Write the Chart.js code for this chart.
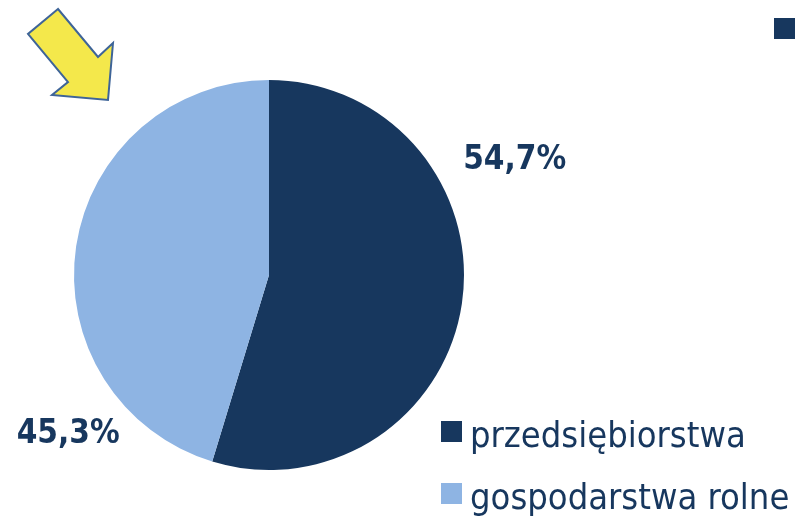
<!DOCTYPE html>
<html>
<head>
<meta charset="utf-8">
<script src="https://cdn.jsdelivr.net/npm/chart.js@4/dist/chart.umd.min.js"></script>
<style>
  html, body { margin: 0; padding: 0; background: #fff; }
  #wrap { width: 797px; height: 517px; }
</style>
</head>
<body>
<div id="wrap"><canvas id="pieChart" width="797" height="517"></canvas></div>
<script>
// Chart data
const categories = ["przedsiębiorstwa", "gospodarstwa rolne"];
const shares = [54.7, 45.3];
const shareLabels = ["54,7%", "45,3%"];
const sliceColors = ["#17375E", "#8EB4E3"];

const textColor = "#17375E";
const fontFamily = "'DejaVu Sans Condensed', 'DejaVu Sans', sans-serif";

// Yellow arrow in the top-left corner (decoration)
const arrowPts = [[58, 9], [28, 34], [68, 82], [52, 95], [108, 100], [113, 43], [98, 57]];

// Draws the percentage labels, the legend and the decorations
const extrasPlugin = {
    id: "extras",
    afterDraw(chart) {
        const ctx = chart.ctx;
        const arc = chart.getDatasetMeta(0).data[0];
        const cx = arc.x, cy = arc.y, r = arc.outerRadius;

        ctx.save();
        // percentage labels, placed around the pie
        ctx.fillStyle = textColor;
        ctx.font = "bold 33px " + fontFamily;
        ctx.textAlign = "center";
        ctx.textBaseline = "middle";
        ctx.fillText(shareLabels[0], cx + r * 1.26, cy - r * 0.59);
        ctx.fillText(shareLabels[1], cx - r * 1.03, cy + r * 0.82);

        // legend (bottom right)
        ctx.font = "36px " + fontFamily;
        ctx.textAlign = "left";
        ctx.textBaseline = "alphabetic";
        categories.forEach((name, i) => {
            const y = 447 + i * 62;
            ctx.fillStyle = sliceColors[i];
            ctx.fillRect(441, y - 26, 21, 21);
            ctx.fillStyle = textColor;
            ctx.fillText(name, 470, y);
        });

        // stray marker, top right
        ctx.fillStyle = sliceColors[0];
        ctx.fillRect(774, 18, 21, 21);

        // arrow
        ctx.beginPath();
        arrowPts.forEach((p, i) => i ? ctx.lineTo(p[0], p[1]) : ctx.moveTo(p[0], p[1]));
        ctx.closePath();
        ctx.fillStyle = "#F4E84B";
        ctx.fill();
        ctx.lineWidth = 2;
        ctx.strokeStyle = "#3E6498";
        ctx.stroke();
        ctx.restore();
    }
};

new Chart(document.getElementById("pieChart"), {
    type: "pie",
    data: {
        labels: categories,
        datasets: [{ data: shares, backgroundColor: sliceColors, borderWidth: 0 }]
    },
    options: {
        responsive: false,
        animation: false,
        layout: { padding: { left: 74, right: 333, top: 80, bottom: 47 } },
        plugins: {
            legend: { display: false },
            tooltip: { enabled: false }
        }
    },
    plugins: [extrasPlugin]
});
</script>
</body>
</html>
